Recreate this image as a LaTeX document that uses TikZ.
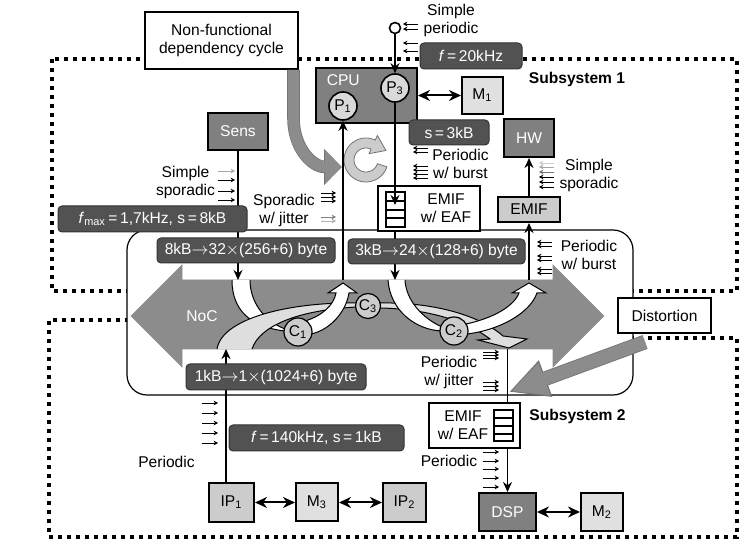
\documentclass[tikz,border=0pt]{standalone}
\usepackage{fontspec}
\setmainfont{Liberation Sans}
\usetikzlibrary{positioning,arrows.meta}

\definecolor{labelgray}{gray}{0.32}
\definecolor{boxgray}{gray}{0.5}
\definecolor{ipgray}{gray}{0.8}
\definecolor{memgray}{gray}{0.88}
\definecolor{circgray}{gray}{0.85}
\definecolor{nocgray}{gray}{0.55}
\definecolor{bandgray}{gray}{0.87}
\definecolor{ringgray}{gray}{0.8}

\begin{document}
\begin{tikzpicture}[x=0.5pt,y=-0.5pt,>={Stealth[length=5pt,width=4.5pt]},font=\fontsize{7.8}{9}\selectfont,line width=0.8pt,node distance=21.5pt,
    dark box/.style={draw, line width=1pt, fill=boxgray, text=white, inner sep=0pt},
    light box/.style={draw, line width=1pt, fill=memgray, inner sep=0pt},
    plain box/.style={draw, line width=1pt, fill=white, inner sep=0pt, align=center},
    proc node/.style={circle, draw, line width=0.8pt, fill=circgray, inner sep=0pt, minimum size=14pt},
    rate label/.style={draw=black!80, line width=0.5pt, fill=labelgray, text=white, rounded corners=2pt, inner sep=0pt, minimum height=13pt},
    event/.style={-{Stealth[length=2.2pt,width=2.4pt]}, line width=0.45pt},
    both ways/.style={{Stealth[length=6pt,width=5.5pt]}-{Stealth[length=6pt,width=5.5pt]}, line width=1pt},
    subsystem/.style={line width=2pt, dash pattern=on 2pt off 2.5pt},
    band/.style={draw, line width=0.5pt, fill=white},
    fat arrow/.style={nocgray, line width=5.5pt, -{Triangle[length=8pt,width=16pt]}}]

    \useasboundingbox (0,0) rectangle (752,549);

    % subsystems and the NoC
    \draw[subsystem] (52,59) rectangle (737,291);
    \draw[subsystem] (630,338) -- (737,338) -- (737,537) -- (49,537) -- (49,320) -- (630,320) -- cycle;
    \draw[line width=0.6pt, fill=white, rounded corners=10pt] (127,230) rectangle (633,395);
    \draw[fill=nocgray, draw=black!45, line width=0.3pt] (131,316) -- (182,265) -- (182,280) -- (553,280) -- (553,265) -- (604,316)
        -- (553,367) -- (553,349) -- (182,349) -- (182,367) -- cycle;
    \node[text=white] (noc) at (202,316) {NoC};
    \coordinate (lane top) at (0,280);
    \coordinate (lane bot) at (0,349);

    % components
    \node[plain box, minimum width=76.5pt, minimum height=28.5pt] (nfd) at (221.5,40.5) {Non-functional\\dependency cycle};
    \node[dark box, minimum width=50.5pt, minimum height=27.5pt] (cpu) at (366.5,95.5) {};
    \node[text=white, anchor=north west, inner sep=0pt] (cpu name) at ([xshift=5.5pt,yshift=-3.5pt]cpu.north west) {CPU};
    \node[proc node] (p1) at (343,106) {P\textsubscript{1}};
    \node[proc node] (p3) at (395,88) {P\textsubscript{3}};
    \node[light box, minimum width=20.5pt, minimum height=18.5pt, right=of cpu] (m1) {M\textsubscript{1}};
    \node[circle, draw, line width=0.8pt, fill=white, minimum size=5.5pt, inner sep=0pt] (src) at (395,28) {};
    \node[plain box, minimum width=51pt, minimum height=22.5pt, label={[align=center, xshift=8.5pt]center:EMIF\\w/ EAF}] (emif1) at (429,208.5) {};
    \draw[line width=0.8pt] (386,192) rectangle (405,227);
    \foreach \y in {201,210,218} \draw[line width=0.6pt] (386,\y) -- (405,\y);
    \coordinate (fifo up) at (395,205);
    \node[dark box, minimum width=30pt, minimum height=18.5pt] (sens) at (238,131.5) {Sens};
    \node[dark box, minimum width=25pt, minimum height=19pt] (hw) at (529,138) {HW};
    \node[light box, fill=ipgray, minimum width=31pt, minimum height=12.5pt] (emif2) at (529,209.5) {EMIF};
    \node[plain box, minimum width=46.5pt, minimum height=17.5pt] (dist) at (664.5,315.5) {Distortion};
    \node[plain box, minimum width=45.5pt, minimum height=22.5pt, label={[align=center, xshift=-5.75pt]center:EMIF\\w/ EAF}] (emif3) at (474.5,425.5) {};
    \draw[line width=0.8pt] (494,410) rectangle (513,441);
    \foreach \y in {418,426,434} \draw[line width=0.6pt] (494,\y) -- (513,\y);
    \node[light box, fill=ipgray, minimum width=22.5pt, minimum height=19.5pt] (ip1) at (231.5,502.5) {IP\textsubscript{1}};
    \node[light box, minimum width=21pt, minimum height=19pt, right=20pt of ip1] (m3) {M\textsubscript{3}};
    \node[light box, fill=ipgray, minimum width=21.5pt, minimum height=19.5pt, right=of m3] (ip2) {IP\textsubscript{2}};
    \node[dark box, minimum width=28.5pt, minimum height=19pt] (dsp) at (507.5,512) {DSP};
    \node[light box, minimum width=21pt, minimum height=19pt, right=of dsp] (m2) {M\textsubscript{2}};

    % dependency cycle and distortion
    \coordinate (cycle) at (366,160);
    \coordinate (dist hit) at (509,392);
    \draw[fat arrow, black!55, line width=6.3pt, -{Triangle[length=9pt,width=17.5pt]}] ([xshift=-2.75pt]nfd.south east) -- ++(0,48)
        .. controls +(0,30) and +(-30,0) .. ([xshift=-12pt,yshift=-3.5pt]cycle);
    \draw[fat arrow] ([xshift=-2.75pt]nfd.south east) -- ++(0,48) .. controls +(0,30) and +(-30,0) .. ([xshift=-12.4pt,yshift=-3.5pt]cycle);
    \draw[fill=ringgray, draw=black!55, line width=0.4pt] plot[domain=18:295, samples=40] ({366+22*cos(\x)},{160+22*sin(\x)})
        -- (377.4,135.5) -- (385.9,150.5) -- (369,153.7) -- plot[domain=295:18, samples=40] ({366+12*cos(\x)},{160+12*sin(\x)}) -- cycle;
    \draw[fat arrow, black!55, line width=7.3pt, -{Triangle[length=19.5pt,width=18pt]}] ([xshift=14pt,yshift=-4pt]dist.south west) -- (dist hit);
    \draw[fat arrow, line width=6.5pt, -{Triangle[length=18pt,width=16pt]}] ([xshift=14pt,yshift=-4pt]dist.south west) -- ([xshift=0.8pt,yshift=0.3pt]dist hit);

    % routes through the NoC
    \draw[band] (232,280) .. controls (232,310) and (250,327) .. (285,331) -- (285,329) .. controls (262,320) and (250,300) .. (250,280);
    \draw[line width=0.5pt, fill=bandgray] (217,349) .. controls (222,318) and (290,302) .. (357,303) -- (357,307) .. controls (300,310) and (260,325) .. (252,349);
    \draw[line width=0.5pt, fill=bandgray] (380,303) .. controls (430,302) and (478,314) .. (503,336) -- (527,339) -- (509,348) -- (478,340)
        -- (490,339) .. controls (468,322) and (430,309) .. (380,308) -- cycle;
    \draw[band] (305,321) .. controls (322,316) and (334,305) .. (336,293) -- (328,293) -- (343,283) -- (357,293) -- (349,293)
        .. controls (346,312) and (330,330) .. (311,334) -- cycle;
    \draw[band] (388,280) .. controls (390,310) and (415,330) .. (442,331) -- (442,327) .. controls (422,318) and (406,300) .. (405,280);
    \draw[band] (466,324) .. controls (494,318) and (514,306) .. (519,293) -- (512,293) -- (529,283) -- (546,293) -- (537,293)
        .. controls (530,313) and (500,330) .. (467,334) -- cycle;
    \node[proc node, fill=ipgray, line width=0.6pt] (c1) at (298,332) {C\textsubscript{1}};
    \node[proc node, fill=ipgray, line width=0.6pt, minimum size=12.5pt] (c3) at (368,306) {C\textsubscript{3}};
    \node[proc node, fill=ipgray, line width=0.6pt] (c2) at (454,331) {C\textsubscript{2}};

    % connectors
    \draw[->] (src) -- (p3);
    \draw[both ways] (cpu.east |- m1) -- (m1);
    \draw[->] (p3) -- (fifo up);
    \draw[->] (emif1.south -| p3) -- (p3 |- lane top);
    \draw[->] (sens) -- (sens |- lane top);
    \draw[->] (p1 |- lane top) -- (p1);
    \draw[->] (emif2 |- lane top) -- (emif2);
    \draw[->] (emif2) -- (hw);
    \draw[->] ([xshift=-2.75pt]ip1.north) -- ([xshift=-2.75pt]ip1.north |- lane bot);
    \draw (dsp.north |- lane bot) -- (dsp.north |- emif3.north);
    \draw[->] (dsp.north |- emif3.south) -- (dsp);
    \draw[both ways] (ip1) -- (m3);
    \draw[both ways] (m3) -- (ip2);
    \draw[both ways] (dsp) -- (m2);

    % stream parameters
    \node[rate label, minimum width=51pt] (f20) at (471,56) {\textit{f}\,=\,20kHz};
    \node[rate label, minimum width=40pt, minimum height=12.5pt] (s3) at (449,132.5) {s\,=\,3kB};
    \node[rate label, minimum width=94.5pt] (fmax) at (152.5,219) {\textit{f}\textsubscript{max}\,=\,1,7kHz, s\,=\,8kB};
    \node[rate label, minimum width=89pt, minimum height=12.5pt] (pk8) at (246,250.5) {8kB$\to$32$\times$(256+6) byte};
    \node[rate label, minimum width=88.5pt, minimum height=12.5pt] (pk3) at (436.5,251.5) {3kB$\to$24$\times$(128+6) byte};
    \node[rate label, minimum width=90pt] (pk1) at (276,377) {1kB$\to$1$\times$(1024+6) byte};
    \node[rate label, minimum width=87.5pt] (f140) at (316.5,438) {\textit{f}\,=\,140kHz, s\,=\,1kB};

    % event models
    \node[align=center] (t src) at (451,20) {Simple\\periodic};
    \node[align=center] (t sens) at (185.5,182) {Simple\\sporadic};
    \node[align=center] (t jit1) at (284,210.5) {Sporadic\\w/ jitter};
    \node[align=center] (t burst1) at (460.5,163.5) {Periodic\\w/ burst};
    \node[align=center] (t hw) at (589,175.5) {Simple\\sporadic};
    \node[align=center] (t burst2) at (589,255) {Periodic\\w/ burst};
    \node[align=center] (t jit2) at (449,372) {Periodic\\w/ jitter};
    \node (t ip) at (166.5,462) {Periodic};
    \node (t dsp) at (449,461) {Periodic};
    \node[font=\fontsize{7.8}{9}\selectfont\bfseries] (sub1) at (577,79) {Subsystem 1};
    \node[font=\fontsize{7.8}{9}\selectfont\bfseries] (sub2) at (577.5,416) {Subsystem 2};

    \foreach \y in {24,29,43,51} \draw[event] (418,\y) -- (403,\y);
    \foreach \y/\c in {171/black!35,180/black,191/black,200/black} \draw[event,color=\c] (218,\y) -- (235,\y);
    \foreach \y/\c in {193/black,197/black,201/black,217/black!50,221/black!30} \draw[event,color=\c] (321,\y) -- (336,\y);
    \foreach \y in {148,152,166,170,174,178} \draw[event] (428,\y) -- (413,\y);
    \foreach \y/\c in {163/black!20,167/black!35,172/black!55,177/black,182/black,187/black} \draw[event,color=\c] (554,\y) -- (539,\y);
    \foreach \y in {242,246,256,260,269,273} \draw[event] (552,\y) -- (537,\y);
    \foreach \y in {352,355,358,382,386,390} \draw[event] (483,\y) -- (499,\y);
    \foreach \y in {403,413,423,433,443} \draw[event] (202,\y) -- (218,\y);
    \foreach \y in {452,461,469,478,487} \draw[event] (483,\y) -- (499,\y);
\end{tikzpicture}
\end{document}
